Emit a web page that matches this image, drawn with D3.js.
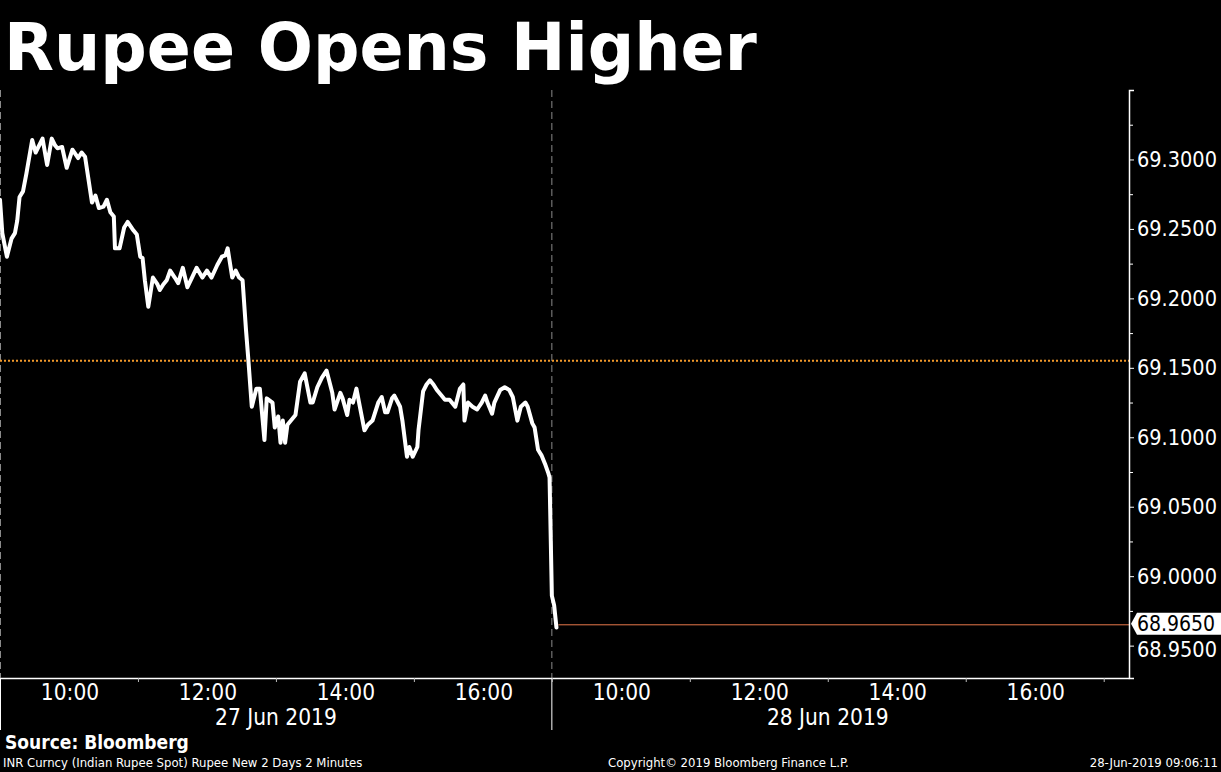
<!DOCTYPE html>
<html>
<head>
<meta charset="utf-8">
<script src="https://cdn.jsdelivr.net/npm/d3@7"></script>
<style>
body { margin: 0; background: #000; }
text { font-family: "DejaVu Sans Condensed", "DejaVu Sans", sans-serif; font-stretch: condensed; }
</style>
</head>
<body>
<svg id="chart"></svg>
<script>
var days = ["27 Jun 2019", "28 Jun 2019"];
var timeLabels = ["10:00", "12:00", "14:00", "16:00"];
var yTicks = [69.30, 69.25, 69.20, 69.15, 69.10, 69.05, 69.00, 68.95];

var day1Times = ["09:00","09:02","09:06","09:10","09:13","09:15","09:17","09:20","09:23","09:28",
    "09:31","09:37","09:41","09:45","09:48","09:50","09:54","09:58","10:03","10:08",
    "10:11","10:14","10:20","10:23","10:26","10:30","10:33","10:36","10:39","10:40",
    "10:44","10:48","10:51","10:56","10:59","11:02","11:04","11:06","11:09","11:13",
    "11:17","11:19","11:22","11:25","11:28","11:32","11:35","11:39","11:43","11:47",
    "11:51","11:56","12:00","12:04","12:09","12:13","12:16","12:18","12:22","12:25",
    "12:28","12:31","12:34","12:36","12:39","12:43","12:46","12:50","12:52","12:57",
    "12:59","13:02","13:04","13:06","13:08","13:10","13:17","13:21","13:25","13:30",
    "13:32","13:36","13:40","13:44","13:49","13:51","13:56","13:58","14:02","14:04",
    "14:07","14:10","14:13","14:17","14:20","14:24","14:29","14:32","14:35","14:37",
    "14:41","14:43","14:48","14:50","14:54","14:56","14:59","15:03","15:04","15:08",
    "15:11","15:14","15:17","15:20","15:24","15:27","15:31","15:36","15:40","15:43",
    "15:44","15:47","15:51","15:55","15:59","16:02","16:04","16:08","16:10","16:15",
    "16:19","16:23","16:26","16:30","16:33","16:37","16:39","16:43","16:45","16:48",
    "16:51","16:54","16:57","16:58"];
var day1Values = [69.271,69.247,69.230,69.243,69.247,69.256,69.273,69.277,69.290,69.314,
    69.305,69.315,69.296,69.315,69.310,69.308,69.309,69.294,69.307,69.301,
    69.305,69.302,69.269,69.274,69.265,69.266,69.271,69.262,69.259,69.236,
    69.236,69.251,69.255,69.249,69.246,69.230,69.229,69.213,69.194,69.215,
    69.210,69.206,69.210,69.213,69.220,69.215,69.211,69.222,69.208,69.215,
    69.222,69.215,69.220,69.215,69.224,69.230,69.231,69.236,69.215,69.220,
    69.215,69.213,69.177,69.156,69.122,69.135,69.135,69.098,69.128,69.125,
    69.107,69.115,69.096,69.112,69.096,69.109,69.116,69.140,69.146,69.125,
    69.125,69.136,69.143,69.148,69.132,69.120,69.132,69.128,69.116,69.127,
    69.125,69.135,69.122,69.105,69.109,69.112,69.125,69.129,69.118,69.118,
    69.128,69.130,69.122,69.112,69.086,69.093,69.086,69.093,69.105,69.133,
    69.138,69.141,69.138,69.134,69.130,69.127,69.127,69.122,69.135,69.138,
    69.112,69.125,69.122,69.120,69.125,69.130,69.125,69.117,69.125,69.134,
    69.136,69.134,69.129,69.112,69.122,69.125,69.122,69.110,69.107,69.091,
    69.087,69.081,69.074,69.071];
var day2Times = ["09:00", "09:02", "09:04"];
var day2Values = [68.986, 68.979, 68.963];
var lastPrice = 68.965;
var refLevel = 69.155;

var width = 1221, height = 772;
var plotLeft = 0, plotRight = 1129, plotTop = 90, plotBottom = 678;
var sessionMinutes = 480;   // 09:00 - 17:00

// minutes since 09:00 on the first day
function toMinutes(t, day) {
    var p = t.split(":");
    return (+p[0]) * 60 + (+p[1]) - 540 + day * sessionMinutes;
}

var data = [];
day1Times.forEach(function(t, i) { data.push({ m: toMinutes(t, 0), v: day1Values[i] }); });
day2Times.forEach(function(t, i) { data.push({ m: toMinutes(t, 1), v: day2Values[i] }); });

var x = d3.scaleLinear().domain([0, 982]).range([plotLeft, plotRight]);
var y = d3.scaleLinear().domain([68.9267, 69.35]).range([plotBottom, plotTop]);

var svg = d3.select("#chart")
    .attr("width", width)
    .attr("height", height)
    .style("background", "#000");

svg.append("rect").attr("width", width).attr("height", height).attr("fill", "#000");

// title
svg.append("text")
    .attr("x", 4)
    .attr("y", 70)
    .attr("fill", "#fff")
    .style("font-family", "'DejaVu Sans', sans-serif")
    .style("font-stretch", "normal")
    .style("font-weight", "bold")
    .style("font-size", "65px")
    .text("Rupee Opens Higher");

// day dividers (dashed inside plot, solid below axis)
[0, sessionMinutes].forEach(function(m) {
    var xx = Math.max(x(m), 0.5);
    svg.append("line")
        .attr("x1", xx).attr("x2", xx)
        .attr("y1", plotTop).attr("y2", plotBottom)
        .attr("stroke", "#8a8a8a")
        .attr("stroke-width", 1)
        .attr("stroke-dasharray", "7,4");
    svg.append("line")
        .attr("x1", xx).attr("x2", xx)
        .attr("y1", plotBottom).attr("y2", 730)
        .attr("stroke", "#fff")
        .attr("stroke-width", 1);
});

// reference level (orange dotted)
svg.append("line")
    .attr("x1", plotLeft).attr("x2", plotRight)
    .attr("y1", y(refLevel)).attr("y2", y(refLevel))
    .attr("stroke", "#f39a2b")
    .attr("stroke-width", 2)
    .attr("stroke-dasharray", "2,2");

// last price line
var last = data[data.length - 1];
svg.append("line")
    .attr("x1", x(last.m) + 2).attr("x2", plotRight)
    .attr("y1", y(lastPrice)).attr("y2", y(lastPrice))
    .attr("stroke", "#e8784a")
    .attr("stroke-width", 1);

// price line
var line = d3.line()
    .x(function(d) { return x(d.m); })
    .y(function(d) { return y(d.v); });

svg.append("path")
    .datum(data)
    .attr("d", line)
    .attr("fill", "none")
    .attr("stroke", "#fff")
    .attr("stroke-width", 4)
    .attr("stroke-linejoin", "round")
    .attr("stroke-linecap", "round");

// right axis
var yMinor = [69.325, 69.275, 69.225, 69.175, 69.125, 69.075, 69.025, 68.975];
var yAxis = svg.append("g")
    .attr("transform", "translate(" + plotRight + ",0)")
    .call(d3.axisRight(y)
        .tickValues(yTicks)
        .tickFormat(d3.format(".4f"))
        .tickSize(5)
        .tickSizeOuter(5)
        .tickPadding(3));
yAxis.select(".domain").attr("stroke", "#fff").attr("stroke-width", 1.5);
yAxis.selectAll(".tick line").attr("stroke", "#fff");
yAxis.selectAll(".tick text")
    .attr("fill", "#fff")
    .style("font-size", "21.5px");
// lowest label sits just under the last-price tag
yAxis.selectAll(".tick text")
    .filter(function(d) { return d === 68.95; })
    .attr("dy", "0.5em");

svg.append("g")
    .attr("transform", "translate(" + plotRight + ",0)")
    .call(d3.axisRight(y).tickValues(yMinor).tickFormat("").tickSize(4))
    .call(function(g) {
        g.select(".domain").remove();
        g.selectAll(".tick line").attr("stroke", "#fff");
    });

// last price tag
var ty = y(lastPrice) - 1;
svg.append("path")
    .attr("d", "M" + (plotRight + 2) + "," + ty +
        "L" + (plotRight + 8) + "," + (ty - 11) +
        "L" + width + "," + (ty - 11) +
        "L" + width + "," + (ty + 11) +
        "L" + (plotRight + 8) + "," + (ty + 11) + "Z")
    .attr("fill", "#fff");
svg.append("text")
    .attr("x", plotRight + 8)
    .attr("y", ty)
    .attr("dy", "0.36em")
    .attr("fill", "#000")
    .style("font-size", "21px")
    .text(d3.format(".4f")(lastPrice));

// bottom axis
var hourTicks = [];
for (var d = 0; d < 2; d++) {
    for (var h = 11; h <= 17; h += 2) hourTicks.push(d * sessionMinutes + (h - 9) * 60);
}
var xAxis = svg.append("g")
    .attr("transform", "translate(0," + plotBottom + ")")
    .call(d3.axisBottom(x).tickValues(hourTicks).tickFormat("").tickSize(4).tickSizeOuter(0));
xAxis.select(".domain").attr("stroke", "#fff").attr("stroke-width", 1.5);
xAxis.selectAll(".tick line").attr("stroke", "#bbb");

var labelMinutes = [];
for (var dd = 0; dd < 2; dd++) {
    timeLabels.forEach(function(t) { labelMinutes.push({ m: toMinutes(t, dd), t: t }); });
}
svg.selectAll(".time-label")
    .data(labelMinutes)
    .enter().append("text")
    .attr("class", "time-label")
    .attr("x", function(d) { return x(d.m) + 1; })
    .attr("y", 700)
    .attr("text-anchor", "middle")
    .attr("fill", "#fff")
    .style("font-size", "22.5px")
    .text(function(d) { return d.t; });

svg.selectAll(".day-label")
    .data(days)
    .enter().append("text")
    .attr("class", "day-label")
    .attr("x", function(d, i) { return x(i * sessionMinutes + sessionMinutes / 2); })
    .attr("y", 725)
    .attr("text-anchor", "middle")
    .attr("fill", "#fff")
    .style("font-size", "22.5px")
    .text(function(d) { return d; });

// footer
svg.append("text")
    .attr("x", 5).attr("y", 749)
    .attr("fill", "#fff")
    .style("font-weight", "bold")
    .style("font-size", "19px")
    .text("Source: Bloomberg");

svg.append("text")
    .attr("x", 3).attr("y", 767)
    .attr("fill", "#fff")
    .style("font-size", "13px")
    .text("INR Curncy (Indian Rupee Spot) Rupee New 2 Days 2 Minutes");

svg.append("text")
    .attr("x", 608).attr("y", 767)
    .attr("fill", "#fff")
    .style("font-size", "13px")
    .text("Copyright\u00a9 2019 Bloomberg Finance L.P.");

svg.append("text")
    .attr("x", 1218).attr("y", 767)
    .attr("text-anchor", "end")
    .attr("fill", "#fff")
    .style("font-size", "13px")
    .text("28-Jun-2019 09:06:11");
</script>
</body>
</html>
